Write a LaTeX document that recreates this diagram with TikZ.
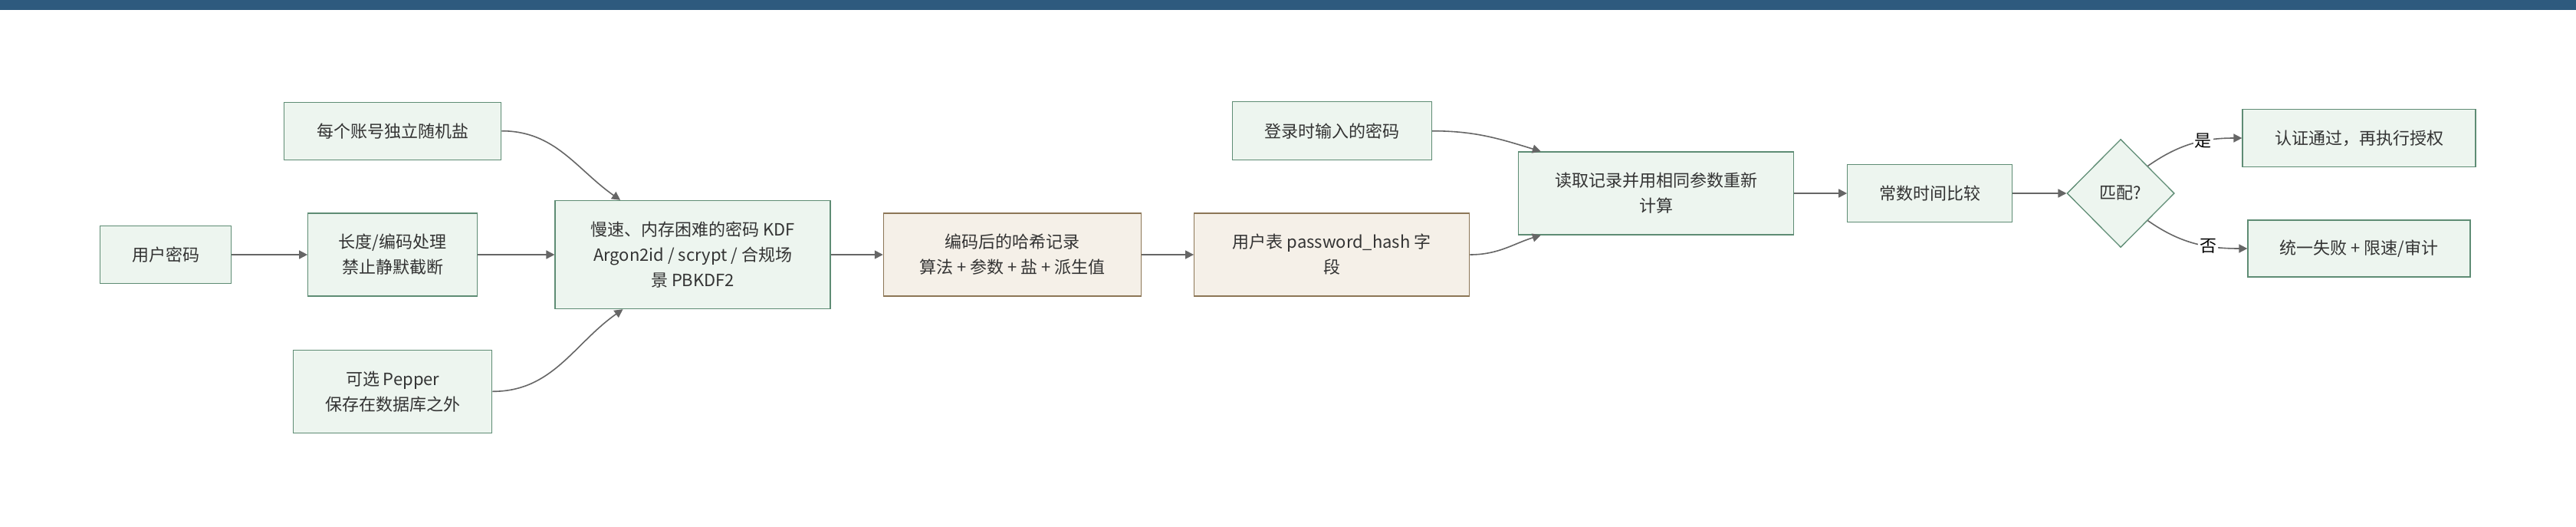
\documentclass[tikz,border=0pt]{standalone}
\usepackage{fontspec}
\newfontfamily\cjk{Noto Sans CJK SC}
\usetikzlibrary{positioning,shapes.geometric,arrows.meta}

\definecolor{barblue}{HTML}{2E5A7E}
\definecolor{greenfill}{HTML}{EDF5EF}
\definecolor{greenline}{HTML}{5E8C74}
\definecolor{beigefill}{HTML}{F5F0E8}
\definecolor{beigeline}{HTML}{8C7656}
\definecolor{linegray}{HTML}{666666}
\definecolor{textgray}{HTML}{333333}

\begin{document}
\begin{tikzpicture}[
            x=1pt,y=1pt,node distance=34pt,
            stepnode/.style={rectangle, draw=greenline, fill=greenfill, line width=0.65pt, inner sep=0pt,
                             align=center, text=textgray, font=\cjk\fontsize{11pt}{16.5pt}\selectfont},
            recnode/.style={stepnode, draw=beigeline, fill=beigefill},
            decnode/.style={diamond, draw=greenline, fill=greenfill, line width=0.65pt, inner sep=0pt, aspect=1,
                            text=textgray, font=\cjk\fontsize{11pt}{16.5pt}\selectfont},
            flow/.style={draw=linegray, line width=0.8pt, -{Triangle[length=5.5pt,width=5.5pt]}},
            branch/.style={fill=white, inner sep=1pt, text=black, font=\cjk\fontsize{11pt}{13pt}\selectfont},
            ]
            % Canvas and top bar
            \useasboundingbox (0,0) rectangle (1680,-343);
            \fill[barblue] (0,0) rectangle (1680,-6.5);

            % Hashing side
            \node[stepnode, minimum width=85.5pt, minimum height=37.5pt] (pw) at (108,-166) {用户密码};
            \node[stepnode, minimum width=110.5pt, minimum height=54pt] (norm) [right=49.5pt of pw] {长度/编码处理\\禁止静默截断};
            \node[stepnode, minimum width=141.5pt, minimum height=37.5pt] (salt) [above=34.25pt of norm] {每个账号独立随机盐};
            \node[stepnode, minimum width=129.5pt, minimum height=54pt] (pepper) [below=34.5pt of norm] {可选 Pepper\\保存在数据库之外};
            \node[stepnode, minimum width=179.5pt, minimum height=70.5pt] (kdf) [right=50pt of norm]
                 {慢速、内存困难的密码 KDF\\Argon2id / scrypt / 合规场\\景 PBKDF2};
            \node[recnode, minimum width=168pt, minimum height=54pt] (rec) [right=of kdf] {编码后的哈希记录\\算法 + 参数 + 盐 + 派生值};
            \node[recnode, minimum width=179.5pt, minimum height=54pt] (col) [right=of rec] {用户表 password\_hash 字\\段};

            % Verification side
            \node[stepnode, minimum width=130pt, minimum height=38pt] (login) [above=of col] {登录时输入的密码};
            \node[stepnode, minimum width=179.5pt, minimum height=54pt] (read) at (1080,-126) {读取记录并用相同参数重新\\计算};
            \node[stepnode, minimum width=107.5pt, minimum height=37.5pt] (cmp) [right=34.5pt of read] {常数时间比较};
            \node[decnode, minimum width=70pt, minimum height=70.5pt] (match) [right=35pt of cmp] {匹配?};
            \node[stepnode, minimum width=152pt, minimum height=37.5pt] (ok) at (1538.5,-90) {认证通过，再执行授权};
            \node[stepnode, minimum width=145pt, minimum height=37pt] (fail) at (1538.5,-162) {统一失败 + 限速/审计};

            % Lines
            \draw[flow] (pw) -- (norm);
            \draw[flow] (norm) -- (kdf);
            \draw[flow] (salt.east) to[out=0,in=145] (kdf.143);
            \draw[flow] (pepper.east) to[out=0,in=-145] (kdf.218);
            \draw[flow] (kdf) -- (rec);
            \draw[flow] (rec) -- (col);
            \draw[flow] (login.east) to[out=0,in=163] (read.160);
            \draw[flow] (col.east) to[out=0,in=-163] (read.200);
            \draw[flow] (read) -- (cmp);
            \draw[flow] (cmp) -- (match);
            \draw[flow] (match.north east) to[out=35,in=180] node[branch, pos=0.62] {是} (ok.west);
            \draw[flow] (match.south east) to[out=-35,in=180] node[branch, pos=0.64] {否} (fail.west);
        \end{tikzpicture}
\end{document}
